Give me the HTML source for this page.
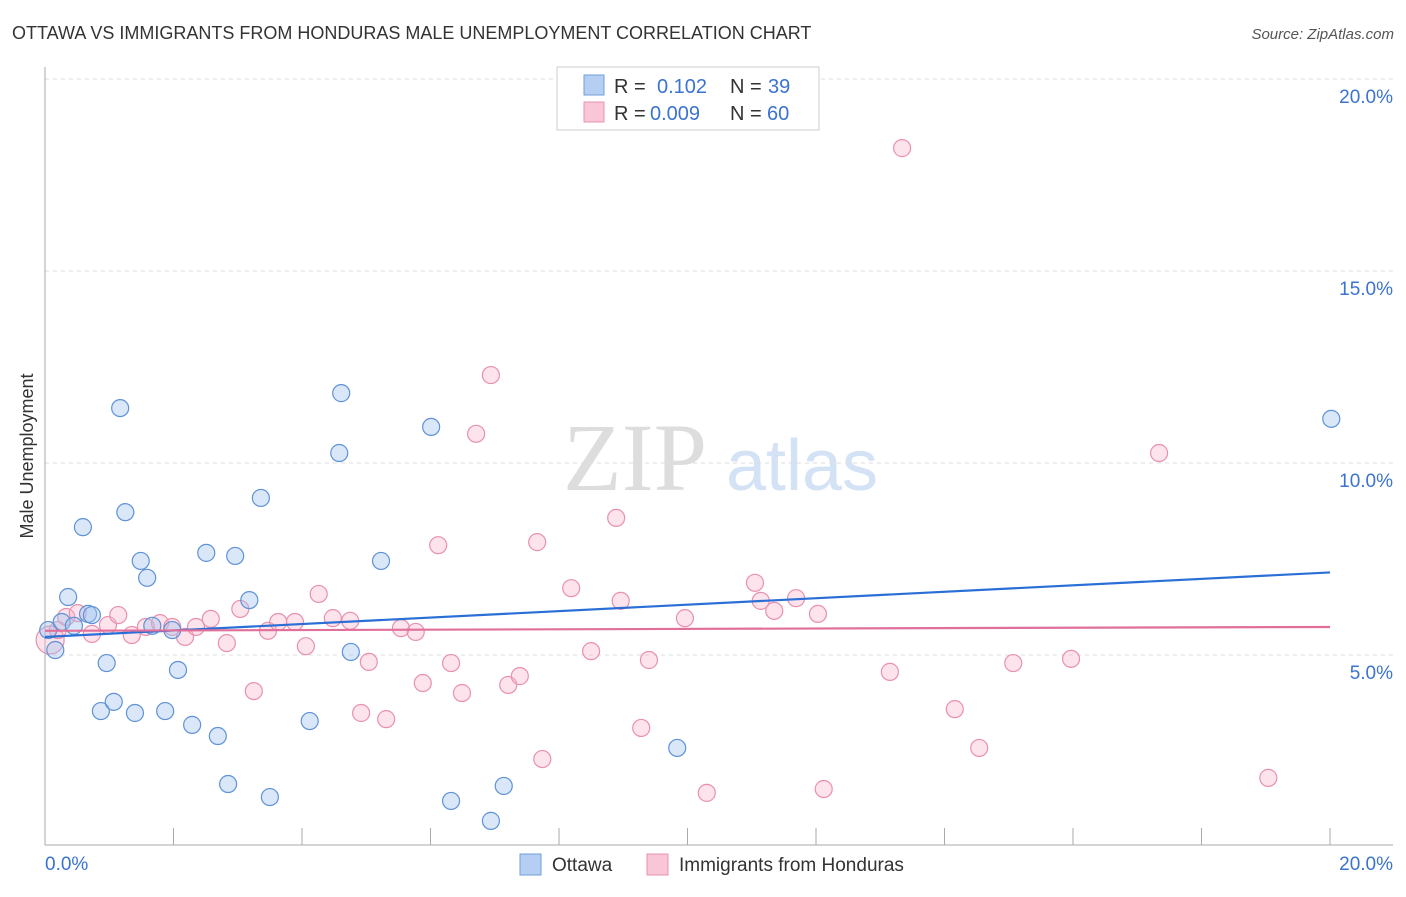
<!DOCTYPE html>
<html><head><meta charset="utf-8"><style>
body{margin:0;background:#fff;font-family:"Liberation Sans",sans-serif;}
svg text{font-family:"Liberation Sans",sans-serif;}
</style></head><body>
<svg id="chart" width="1406" height="892" xmlns="http://www.w3.org/2000/svg">
<text x="12" y="39" font-size="18" fill="#333">OTTAWA VS IMMIGRANTS FROM HONDURAS MALE UNEMPLOYMENT CORRELATION CHART</text>
<text x="1394" y="39" font-size="15" fill="#555" text-anchor="end" font-style="italic">Source: ZipAtlas.com</text>
<g>
<text x="635" y="490" font-size="96" fill="#ddd" text-anchor="middle" style="font-family:'Liberation Serif',serif">ZIP</text>
<text x="802" y="490" font-size="72" fill="#d3e2f5" text-anchor="middle">atlas</text>
</g>
<g id="grid"></g>
<g id="axes"></g>
<text transform="translate(33,456) rotate(-90)" font-size="18" fill="#333" text-anchor="middle">Male Unemployment</text>
<g id="marks"></g>
<g>
<rect x="557" y="67" width="262" height="63" fill="#fff" stroke="#ccc"/>
<rect x="584" y="75" width="20" height="20" fill="#b4cff2" stroke="#6f9fd8"/>
<text x="614" y="93" font-size="20" fill="#333">R =</text><text x="657" y="93" font-size="20" fill="#3b73d0">0.102</text>
<text x="730" y="93" font-size="20" fill="#333">N =</text><text x="768" y="93" font-size="20" fill="#3b73d0">39</text>
<rect x="584" y="102" width="20" height="20" fill="#f8c6d6" stroke="#e891ae"/>
<text x="614" y="120" font-size="20" fill="#333">R =</text><text x="650" y="120" font-size="20" fill="#3b73d0">0.009</text>
<text x="730" y="120" font-size="20" fill="#333">N =</text><text x="767" y="120" font-size="20" fill="#3b73d0">60</text>
</g>
<g>
<rect x="520" y="854" width="21" height="21" fill="#b4cff2" stroke="#6f9fd8"/>
<text x="552" y="871" font-size="19" fill="#333">Ottawa</text>
<rect x="647" y="854" width="21" height="21" fill="#f8c6d6" stroke="#e891ae"/>
<text x="679" y="871" font-size="19" fill="#333">Immigrants from Honduras</text>
</g>
</svg>
<script>
const xTicks=[0,2,4,6,8,10,12,14,16,18,20];
const yTicks=[5,10,15,20];
const ottawaX=[0.05,0.16,0.26,0.36,0.45,0.59,0.67,0.73,0.87,0.96,1.07,1.17,1.25,1.40,1.49,1.59,1.67,1.87,1.98,2.07,2.29,2.51,2.69,2.85,2.96,3.18,3.36,3.50,4.12,4.61,4.58,4.76,5.23,6.01,6.32,6.94,7.14,9.84,20.02];
const ottawaY=[5.65,5.13,5.86,6.51,5.76,8.33,6.07,6.04,3.54,4.79,3.78,11.43,8.72,3.49,7.45,7.01,5.76,3.54,5.65,4.61,3.18,7.66,2.89,1.64,7.58,6.43,9.09,1.30,3.28,11.82,10.26,5.08,7.45,10.94,1.20,0.68,1.59,2.58,11.15];
const hondX=[0.08,0.20,0.33,0.51,0.73,0.98,1.14,1.35,1.57,1.79,1.98,2.18,2.35,2.58,2.83,3.04,3.25,3.47,3.63,3.89,4.06,4.26,4.48,4.75,4.92,5.04,5.31,5.54,5.77,5.88,6.12,6.32,6.49,6.71,6.94,7.21,7.39,7.66,7.74,8.19,8.50,8.89,8.96,9.28,9.40,9.96,10.30,11.05,11.14,11.35,11.69,12.03,12.12,13.15,13.34,14.16,14.54,15.07,15.97,17.34,19.04];
const hondY=[5.39,5.65,5.99,6.09,5.55,5.78,6.04,5.52,5.73,5.83,5.73,5.47,5.73,5.94,5.31,6.20,4.06,5.63,5.86,5.86,5.23,6.59,5.96,5.89,3.49,4.82,3.33,5.70,5.60,4.27,7.86,4.79,4.01,10.76,12.29,4.22,4.45,7.94,2.29,6.74,5.10,8.57,6.41,3.10,4.87,5.96,1.41,6.88,6.41,6.15,6.48,6.07,1.51,4.56,18.20,3.59,2.58,4.79,4.90,10.26,1.80];
const ottawaTrend=[5.47,7.15];
const hondTrend=[5.63,5.73];
const NS="http://www.w3.org/2000/svg";
const sx=v=>45+v*64.25, sy=v=>847-v*38.4;
function mk(tag,attrs,parent){const e=document.createElementNS(NS,tag);for(const k in attrs)e.setAttribute(k,attrs[k]);parent.appendChild(e);return e;}
const grid=document.getElementById('grid'),axes=document.getElementById('axes'),marks=document.getElementById('marks');
yTicks.forEach(t=>{const l=mk('line',{x1:45,x2:1393,y1:sy(t),y2:sy(t),stroke:'#ddd','stroke-dasharray':'4,4'},grid);


const tx=mk('text',{x:1393,y:sy(t)+24,'font-size':19,fill:'#3b73d0','text-anchor':'end'},axes);tx.textContent=t.toFixed(1)+'%';

});
let a=mk('line',{x1:45,x2:45,y1:67,y2:845,stroke:'#aaa'},axes);


a=mk('line',{x1:45,x2:1393,y1:845,y2:845,stroke:'#aaa'},axes);


xTicks.forEach(t=>{const l=mk('line',{x1:sx(t),x2:sx(t),y1:828,y2:845,stroke:'#aaa'},axes);

});
[[0,'start'],[20,'end']].forEach(([t,an])=>{const tx=mk('text',{x:t==0?45:1393,y:870,'font-size':19,fill:'#3b73d0','text-anchor':an},axes);tx.textContent=t.toFixed(1)+'%';

});
hondX.forEach((x,i)=>{const c=mk('circle',{cx:sx(x),cy:sy(hondY[i]),r:i==0?14:8.5,fill:'rgba(245,175,200,0.35)',stroke:'#e891ae','stroke-width':1.2},marks);

});
ottawaX.forEach((x,i)=>{const c=mk('circle',{cx:sx(x),cy:sy(ottawaY[i]),r:8.5,fill:'rgba(160,195,240,0.4)',stroke:'#5f92d6','stroke-width':1.2},marks);

});
let t1=mk('line',{x1:sx(0),x2:sx(20),y1:sy(ottawaTrend[0]),y2:sy(ottawaTrend[1]),stroke:'#2a6fd6','stroke-width':2.2},marks);


let t2=mk('line',{x1:sx(0),x2:sx(20),y1:sy(hondTrend[0]),y2:sy(hondTrend[1]),stroke:'#e0709a','stroke-width':2.2},marks);


</script>
</body></html>
